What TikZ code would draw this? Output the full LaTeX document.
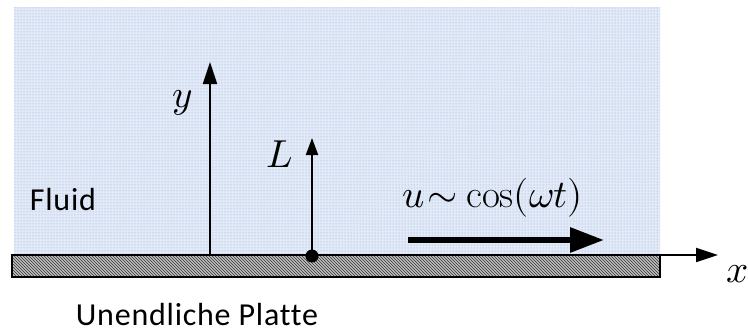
\documentclass[tikz,border=0pt]{standalone}
\usepackage{unicode-math}
\setmathfont{Latin Modern Math}
\setsansfont{Carlito}[Ligatures=NoCommon,LetterSpace=2.4]
\usetikzlibrary{arrows.meta,patterns}
\definecolor{fluidbg}{RGB}{226,234,247}
\definecolor{fluiddot}{RGB}{110,140,205}
\tikzset{
  axis/.style={line width=2pt,-{Triangle[length=22pt,width=14pt]}},
  smallarr/.style={line width=2pt,-{Triangle[length=17pt,width=12pt]}},
  bigarr/.style={line width=6pt,-{Triangle[length=34pt,width=24pt]}},
  mathlbl/.style={font=\fontsize{39}{44}\selectfont,inner sep=0pt},
  txtlbl/.style={font=\sffamily\fontsize{32}{38}\selectfont,inner sep=0pt}
}
\begin{document}
\begin{tikzpicture}[x=1pt,y=-1pt]
\useasboundingbox (0,0) rectangle (748,332);
% fluid
\fill[fluidbg] (14,7) rectangle (660,255);
\fill[pattern=dots,pattern color=fluiddot!80] (14,7) rectangle (660,255);
% plate
\fill[gray!50] (12,255) rectangle (660,277);
\fill[pattern=north west lines,pattern color=black!80] (12,255) rectangle (660,277);
\draw[line width=2pt] (12,255) rectangle (660,277);
% coordinates
\coordinate (plateR) at (660,255);
\coordinate (xtip) at (718,255);
\coordinate (ybase) at (210,255);
\coordinate (ytip) at (210,62);
\coordinate (Ltip) at (312,138);
\coordinate (ustart) at (408,240);
\coordinate (uend) at (604,240);
\node[circle,fill=black,inner sep=0pt,minimum size=13pt] (dot) at (312,256) {};
% axes
\draw[axis] (plateR) -- (xtip);
\draw[axis] (ybase) -- (ytip);
\draw[smallarr] (dot.center) -- (Ltip);
\draw[bigarr] (ustart) -- (uend);
% labels
\node[mathlbl] (xl) at (738,274) {$x$};
\node[mathlbl] (yl) at (183,103) {$y$};
\node[mathlbl] (Ll) at (280,154) {$L$};
\node[mathlbl] (ul) at (493,198) {$u\mkern1mu{\sim}\mkern1mu\cos(\omega t)$};
\node[txtlbl] (fl) at (63,200) {Fluid};
\node[txtlbl,anchor=base] (pl) at (197,325) {Unendliche Platte};
\end{tikzpicture}
\end{document}
